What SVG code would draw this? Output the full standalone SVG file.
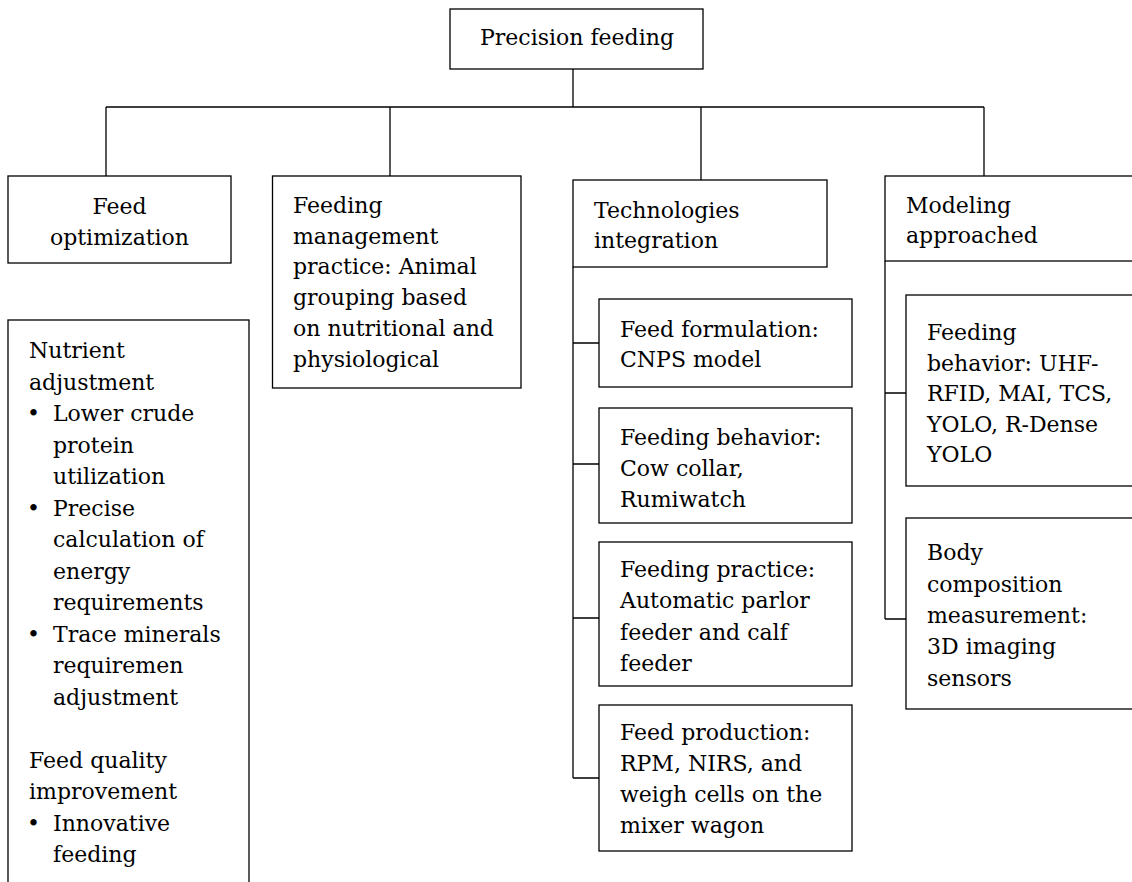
<svg xmlns="http://www.w3.org/2000/svg" width="1132" height="882" viewBox="0 0 1132 882">
<style>
.box{fill:#fff;stroke:#000;stroke-width:1.3}
.ln{fill:none;stroke:#000;stroke-width:1.3}
text{font-family:"DejaVu Serif","Liberation Serif",serif;font-size:22px;fill:#000}
.c{text-anchor:middle}
</style>
<rect width="1132" height="882" fill="#fff"/>
<g id="connectors">
<path class="ln" d="M573 69V107M106 107H984M106 107V176M390 107V176M701 107V180M984 107V176"/>
<path class="ln" d="M573 267V778M573 343H599M573 464H599M573 618H599M573 778H599"/>
<path class="ln" d="M885 261V619M885 393H906M885 619H906"/>
</g>
<g id="precision-feeding">
<rect class="box" x="450" y="9" width="253" height="60"/>
<text class="c" x="577" y="45">Precision feeding</text>
</g>
<g id="feed-optimization">
<rect class="box" x="8" y="176" width="223" height="87"/>
<text class="c" x="119.5" y="214">Feed</text>
<text class="c" x="119.5" y="245">optimization</text>
</g>
<g id="nutrient-adjustment">
<rect class="box" x="8" y="320" width="241" height="600"/>
<text x="29" y="358">Nutrient</text>
<text x="29" y="389.5">adjustment</text>
<text x="27" y="421">•</text><text x="53" y="421">Lower crude</text>
<text x="53" y="452.5">protein</text>
<text x="53" y="484">utilization</text>
<text x="27" y="515.5">•</text><text x="53" y="515.5">Precise</text>
<text x="53" y="547">calculation of</text>
<text x="53" y="578.5">energy</text>
<text x="53" y="610">requirements</text>
<text x="27" y="641.5">•</text><text x="53" y="641.5">Trace minerals</text>
<text x="53" y="673">requiremen</text>
<text x="53" y="704.5">adjustment</text>
<text x="29" y="767.5">Feed quality</text>
<text x="29" y="799">improvement</text>
<text x="27" y="830.5">•</text><text x="53" y="830.5">Innovative</text>
<text x="53" y="862">feeding</text>
</g>
<g id="feeding-management">
<rect class="box" x="272.5" y="176" width="248.5" height="212"/>
<text x="293" y="212.7">Feeding</text>
<text x="293" y="243.5">management</text>
<text x="293" y="274.3">practice: Animal</text>
<text x="293" y="305">grouping based</text>
<text x="293" y="336">on nutritional and</text>
<text x="293" y="366.7">physiological</text>
</g>
<g id="technologies-integration">
<rect class="box" x="573" y="180" width="254" height="87"/>
<text x="594" y="218.3">Technologies</text>
<text x="594" y="248.3">integration</text>
</g>
<g id="feed-formulation">
<rect class="box" x="599" y="299" width="253" height="88"/>
<text x="620" y="336.7">Feed formulation:</text>
<text x="620" y="367">CNPS model</text>
</g>
<g id="feeding-behavior-tech">
<rect class="box" x="599" y="408" width="253" height="115"/>
<text x="620" y="445">Feeding behavior:</text>
<text x="620" y="476">Cow collar,</text>
<text x="620" y="507">Rumiwatch</text>
</g>
<g id="feeding-practice">
<rect class="box" x="599" y="542" width="253" height="144"/>
<text x="620" y="577">Feeding practice:</text>
<text x="620" y="608">Automatic parlor</text>
<text x="620" y="640">feeder and calf</text>
<text x="620" y="671">feeder</text>
</g>
<g id="feed-production">
<rect class="box" x="599" y="705" width="253" height="146"/>
<text x="620" y="740">Feed production:</text>
<text x="620" y="771">RPM, NIRS, and</text>
<text x="620" y="802">weigh cells on the</text>
<text x="620" y="833">mixer wagon</text>
</g>
<g id="modeling-approached">
<rect class="box" x="885" y="176" width="260" height="85"/>
<text x="906" y="213.3">Modeling</text>
<text x="906" y="242.7">approached</text>
</g>
<g id="feeding-behavior-model">
<rect class="box" x="906" y="295" width="240" height="191"/>
<text x="927" y="340">Feeding</text>
<text x="927" y="370.7">behavior: UHF-</text>
<text x="927" y="401">RFID, MAI, TCS,</text>
<text x="927" y="431.7">YOLO, R-Dense</text>
<text x="927" y="462">YOLO</text>
</g>
<g id="body-composition">
<rect class="box" x="906" y="518" width="240" height="191"/>
<text x="927" y="560">Body</text>
<text x="927" y="591.7">composition</text>
<text x="927" y="623">measurement:</text>
<text x="927" y="654">3D imaging</text>
<text x="927" y="686">sensors</text>
</g>
</svg>
